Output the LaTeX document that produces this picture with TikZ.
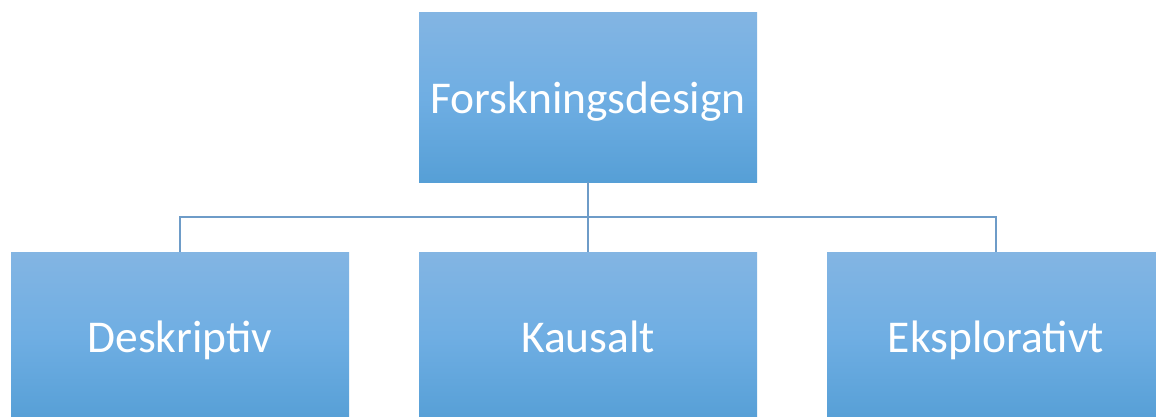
\documentclass[tikz,border=0pt]{standalone}
\usepackage{fontspec}
\setmainfont{Carlito}
\definecolor{boxtop}{RGB}{131,181,227}
\definecolor{boxmid}{RGB}{111,174,227}
\definecolor{boxbot}{RGB}{86,159,214}
\definecolor{linkcol}{RGB}{110,156,200}
\tikzset{
  box/.style={rectangle, minimum width=338pt, minimum height=169pt, inner sep=0pt,
    text height=40pt, text depth=8.5pt,
    top color=boxtop, bottom color=boxbot, middle color=boxmid,
    text=white, font=\fontsize{45.5}{55}\selectfont},
  link/.style={draw=linkcol, line width=1.5pt}
}
\begin{document}
\begin{tikzpicture}[x=1pt,y=-1pt]
\useasboundingbox (0,0) rectangle (1156,417);
\clip (0,0) rectangle (1156,417);
\node[box] (root) at (588,97.5) {Forskningsdesign};
\node[box] (d) at (180,336.5) {Deskriptiv};
\node[box] (k) at (588,336.5) {Kausalt};
\node[box] (e) at (996,336.5) {Eksplorativt};
\coordinate (bus) at (588,217);
\draw[link] (root.south) -- (bus);
\draw[link] (d.north) |- (bus) -| (e.north);
\draw[link] (bus) -- (k.north);
\end{tikzpicture}
\end{document}
